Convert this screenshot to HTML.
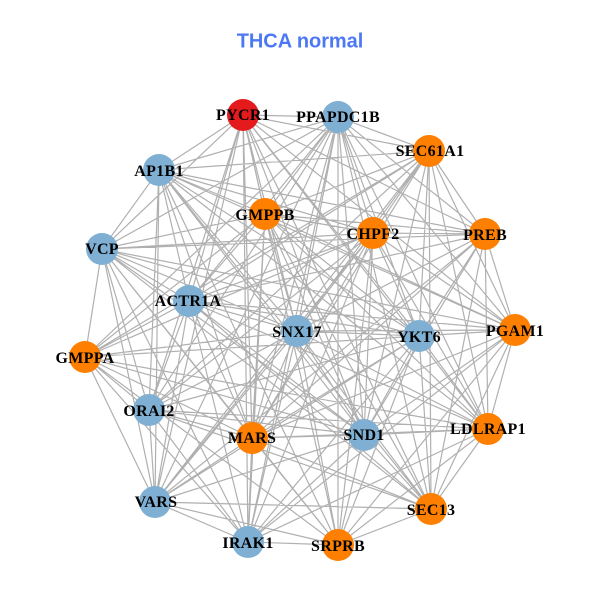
<!DOCTYPE html>
<html><head><meta charset="utf-8"><style>html,body{margin:0;padding:0;background:#fff}svg{display:block}
.l{font:bold 16px "Liberation Serif",serif;letter-spacing:.3px;fill:#000;text-anchor:middle}</style></head><body>
<svg width="600" height="600" viewBox="0 0 600 600" xmlns="http://www.w3.org/2000/svg">
<text x="300" y="47.5" text-anchor="middle" style="font:bold 20px 'Liberation Sans',sans-serif;letter-spacing:-.05px" fill="#4c78f5">THCA normal</text>
<path fill="none" stroke="#b0b0b0" stroke-width="1.2" d="
M243 115L338 117M243 115L429 151M243 115L159 170M243 115L485 234M243 115L102 249M243 115L189 301M243 115L297 331M243 115L419 336M243 115L515 330M243 115L149 410M243 115L252 438M243 115L364 435M243 115L488 429M243 115L155 502M243 115L248 542M243 115L338 545M243 115L431 509M243 115L265 214
M338 117L429 151M338 117L159 170M338 117L265 214M338 117L373 233M338 117L485 234M338 117L102 249M338 117L189 301M338 117L297 331M338 117L419 336M338 117L85 357M338 117L149 410M338 117L252 438M338 117L364 435M338 117L488 429M338 117L155 502M338 117L431 509M338 117L248 542M338 117L338 545M338 117L515 330
M429 151L159 170M429 151L373 233M429 151L485 234M429 151L265 214M429 151L189 301M429 151L297 331M429 151L419 336M429 151L515 330M429 151L85 357M429 151L252 438M429 151L364 435M429 151L488 429M429 151L149 410M429 151L155 502M429 151L431 509
M159 170L265 214M159 170L373 233M159 170L485 234M159 170L102 249M159 170L189 301M159 170L297 331M159 170L419 336M159 170L515 330M159 170L149 410M159 170L364 435M159 170L488 429M159 170L252 438M159 170L155 502M159 170L431 509M159 170L338 545
M265 214L373 233M265 214L485 234M265 214L102 249M265 214L189 301M265 214L297 331M265 214L419 336M265 214L515 330M265 214L85 357M265 214L252 438M265 214L364 435M265 214L488 429M265 214L431 509M265 214L248 542
M373 233L485 234M373 233L102 249M373 233L189 301M373 233L297 331M373 233L419 336M373 233L515 330M373 233L85 357M373 233L149 410M373 233L252 438M373 233L364 435M373 233L488 429M373 233L155 502M373 233L248 542M373 233L338 545
M485 234L102 249M485 234L297 331M485 234L419 336M485 234L515 330M485 234L189 301M485 234L252 438M485 234L364 435M485 234L488 429M485 234L431 509M485 234L155 502
M102 249L189 301M102 249L297 331M102 249L419 336M102 249L515 330M102 249L85 357M102 249L149 410M102 249L252 438M102 249L364 435M102 249L155 502M102 249L248 542M102 249L431 509M102 249L338 545
M189 301L297 331M189 301L419 336M189 301L515 330M189 301L85 357M189 301L149 410M189 301L252 438M189 301L364 435M189 301L488 429M189 301L155 502M189 301L431 509M189 301L248 542
M297 331L419 336M297 331L515 330M297 331L85 357M297 331L149 410M297 331L252 438M297 331L364 435M297 331L488 429M297 331L155 502M297 331L431 509M297 331L248 542M297 331L338 545
M419 336L515 330M419 336L85 357M419 336L149 410M419 336L252 438M419 336L364 435M419 336L488 429M419 336L155 502M419 336L431 509M419 336L248 542M419 336L338 545
M515 330L85 357M515 330L252 438M515 330L364 435M515 330L488 429M515 330L431 509M515 330L338 545M515 330L248 542
M85 357L149 410M85 357L252 438M85 357L364 435M85 357L155 502M85 357L248 542M85 357L338 545M85 357L488 429
M149 410L252 438M149 410L364 435M149 410L488 429M149 410L155 502M149 410L431 509M149 410L248 542
M252 438L364 435M252 438L488 429M252 438L155 502M252 438L431 509M252 438L248 542M252 438L338 545
M364 435L488 429M364 435L155 502M364 435L431 509M364 435L248 542M364 435L338 545
M488 429L431 509M488 429L338 545M488 429L248 542
M155 502L431 509M155 502L248 542M155 502L338 545
M431 509L338 545M248 542L338 545"/>
<g fill="#7fb0d3">
<circle cx="338" cy="117" r="16"/><circle cx="159" cy="170" r="16"/><circle cx="102" cy="249" r="16"/><circle cx="189" cy="301" r="16"/><circle cx="297" cy="331" r="16"/><circle cx="419" cy="336" r="16"/><circle cx="149" cy="410" r="16"/><circle cx="364" cy="435" r="16"/><circle cx="155" cy="502" r="16"/><circle cx="248" cy="542" r="16"/>
</g>
<g fill="#ff7f00">
<circle cx="429" cy="151" r="16"/><circle cx="265" cy="214" r="16"/><circle cx="373" cy="233" r="16"/><circle cx="485" cy="234" r="16"/><circle cx="515" cy="330" r="16"/><circle cx="85" cy="357" r="16"/><circle cx="252" cy="438" r="16"/><circle cx="488" cy="429" r="16"/><circle cx="431" cy="509" r="16"/><circle cx="338" cy="545" r="16"/>
</g>
<circle cx="243" cy="115" r="16" fill="#e41a1c"/>
<g>
<text class="l" x="243" y="120">PYCR1</text>
<text class="l" x="338" y="122">PPAPDC1B</text>
<text class="l" x="430" y="156">SEC61A1</text>
<text class="l" x="159" y="176">AP1B1</text>
<text class="l" x="265" y="220">GMPPB</text>
<text class="l" x="373" y="239">CHPF2</text>
<text class="l" x="485" y="240">PREB</text>
<text class="l" x="102" y="254">VCP</text>
<text class="l" x="188" y="306">ACTR1A</text>
<text class="l" x="297" y="337">SNX17</text>
<text class="l" x="419" y="342">YKT6</text>
<text class="l" x="515" y="336">PGAM1</text>
<text class="l" x="85" y="363">GMPPA</text>
<text class="l" x="149" y="416">ORAI2</text>
<text class="l" x="252" y="443">MARS</text>
<text class="l" x="364" y="440">SND1</text>
<text class="l" x="488" y="434">LDLRAP1</text>
<text class="l" x="156" y="507">VARS</text>
<text class="l" x="431" y="515">SEC13</text>
<text class="l" x="248" y="548">IRAK1</text>
<text class="l" x="338" y="551">SRPRB</text>
</g>
</svg>
</body></html>
